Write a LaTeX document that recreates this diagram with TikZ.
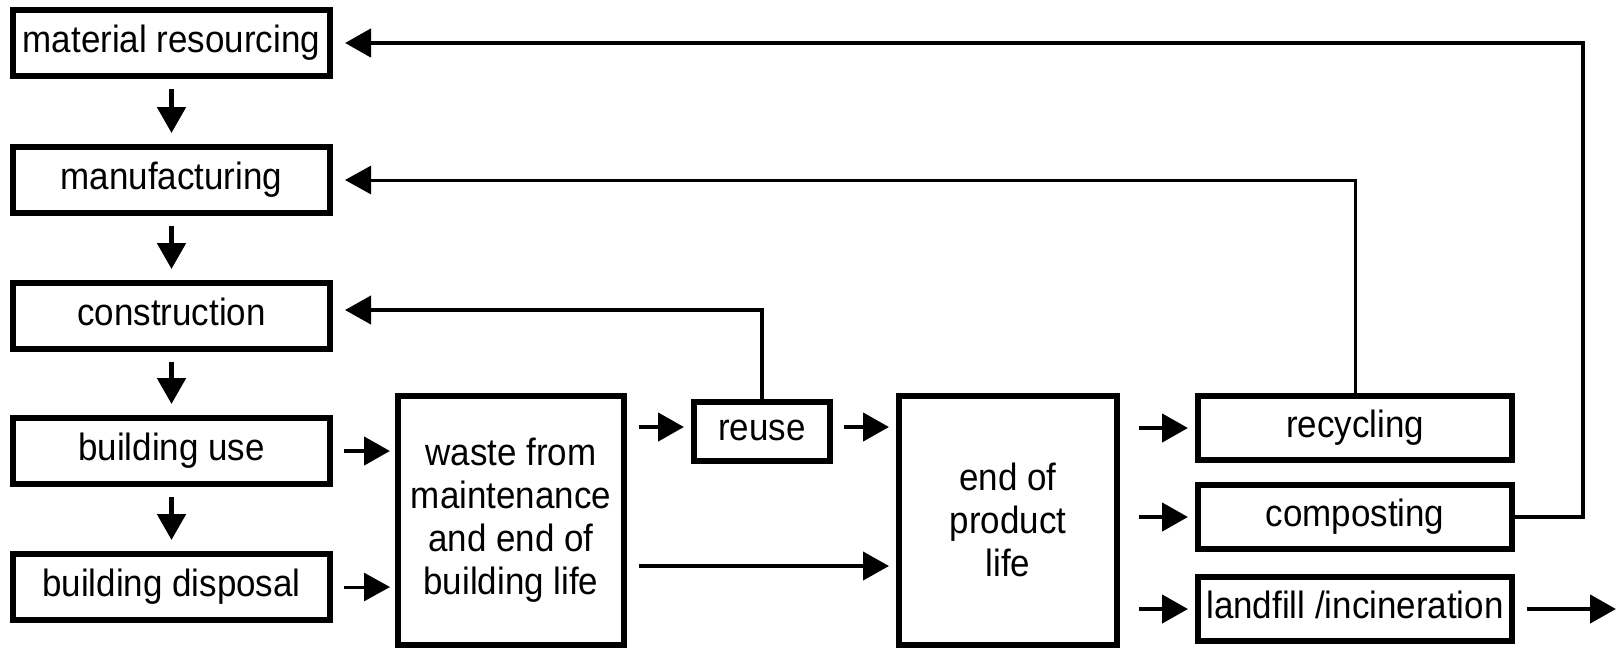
\documentclass[tikz,border=0pt]{standalone}
\usepackage{fontspec}
\setmainfont{Liberation Sans}[FakeStretch=0.92]
\usetikzlibrary{arrows.meta}
\begin{document}
\begin{tikzpicture}[x=1pt,y=-1pt,
  box/.style={draw, line width=6pt, inner sep=0pt, align=center,
    font=\fontsize{38}{43}\selectfont},
  one/.style={box, text height=27pt, text depth=8pt},
  lbox/.style={one, minimum width=317pt, minimum height=66pt},
  rbox/.style={one, minimum width=314pt, minimum height=64pt},
  tall/.style={box, minimum width=226pt, minimum height=249pt},
  arr/.style={line width=4.5pt, -{Triangle[length=26pt,width=28pt]}},
  thinarr/.style={line width=3pt, -{Triangle[length=26pt,width=28pt]}}]
\fill[white] (0,0) rectangle (1622,649);
\useasboundingbox (0,0) rectangle (1622,649);

% left column
\node[lbox] (mat) at (171.5,43) {material resourcing};
\node[lbox] (man) at (171.5,180) {manufacturing};
\node[lbox] (con) at (171.5,316) {construction};
\node[lbox] (use) at (171.5,451) {building use};
\node[lbox] (dis) at (171.5,587) {building disposal};

% middle
\node[tall] (waste) at (511,520) {waste from\\maintenance\\and end of\\building life};
\node[one, minimum width=136pt, minimum height=59pt] (reuse) at (762,431) {reuse};
\node[tall, minimum width=218pt] (end) at (1008,520) {end of\\product\\life};

% right column
\node[rbox] (rec) at (1355,428) {recycling};
\node[rbox] (comp) at (1355,517) {composting};
\node[rbox] (land) at (1355,609) {landfill /incineration};

\coordinate (out) at (1616,609);
\coordinate (corner) at (1583,43);

% vertical arrows
\foreach \a/\b in {mat/man, man/con, con/use, use/dis}
  \draw[arr, line width=5pt, shorten <=10pt, shorten >=11pt] (\a.south) -- (\b.north);

% into waste
\draw[arr, shorten <=11pt, shorten >=5pt] (use.east) -- (waste.west |- use.east);
\draw[thinarr, shorten <=11pt, shorten >=5pt] (dis.east) -- (waste.west |- dis.east);

% waste -> reuse, reuse -> end, waste -> end
\draw[arr, shorten <=12pt, shorten >=7pt] ([yshift=4pt]waste.east |- reuse.west) -- ([yshift=4pt]reuse.west);
\draw[arr, shorten <=11pt, shorten >=7pt] ([yshift=4pt]reuse.east) -- ([yshift=4pt]end.west |- reuse.east);
\draw[line width=4pt, -{Triangle[length=26pt,width=28pt]}, shorten <=12pt, shorten >=7pt]
  ([yshift=-46pt]waste.east) -- ([yshift=-46pt]end.west);

% end -> right column
\draw[arr, shorten <=19pt, shorten >=7pt] (end.east |- rec.west) -- (rec.west);
\draw[arr, shorten <=19pt, shorten >=7pt] (end.east |- comp.west) -- (comp.west);
\draw[arr, shorten <=19pt, shorten >=7pt] (end.east |- land.west) -- (land.west);
\draw[arr, shorten <=12pt] (land.east) -- (out);

% feedback loops
\draw[line width=4pt, -{Triangle[length=26pt,width=28pt]}, shorten >=12pt]
  (reuse.north) -- (reuse.north |- 0,310) -- (con.east |- 0,310);
\draw[thinarr, shorten >=12pt] (rec.north) -- (rec.north |- man.east) -- (man.east);
\draw[arr, shorten >=12pt] (comp.east) -| (corner) -- (mat.east);
\end{tikzpicture}
\end{document}
